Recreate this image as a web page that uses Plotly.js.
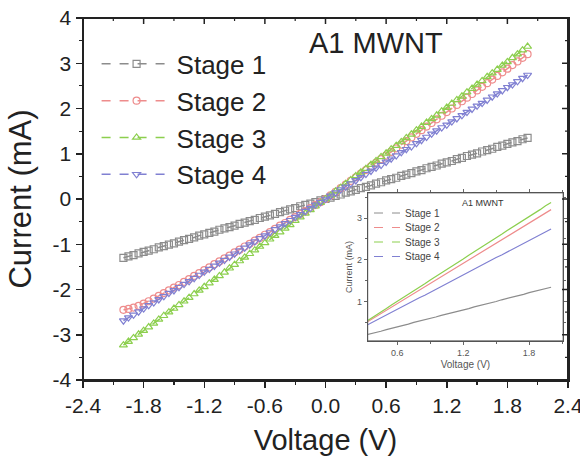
<!DOCTYPE html>
<html>
<head>
<meta charset="utf-8">
<script src="https://cdn.plot.ly/plotly-3.0.1.min.js"></script>
<style>html,body{margin:0;padding:0;background:#fff;overflow:hidden}#chart{width:580px;height:462px}</style>
</head>
<body>
<div id="chart"></div>
<script>
var voltage = [-2.00,-1.95,-1.90,-1.85,-1.80,-1.75,-1.70,-1.65,-1.60,-1.55,-1.50,-1.45,-1.40,-1.35,-1.30,-1.25,-1.20,-1.15,-1.10,-1.05,-1.00,-0.95,-0.90,-0.85,-0.80,-0.75,-0.70,-0.65,-0.60,-0.55,-0.50,-0.45,-0.40,-0.35,-0.30,-0.25,-0.20,-0.15,-0.10,-0.05,0.00,0.05,0.10,0.15,0.20,0.25,0.30,0.35,0.40,0.45,0.50,0.55,0.60,0.65,0.70,0.75,0.80,0.85,0.90,0.95,1.00,1.05,1.10,1.15,1.20,1.25,1.30,1.35,1.40,1.45,1.50,1.55,1.60,1.65,1.70,1.75,1.80,1.85,1.90,1.95,2.00];

var stage1 = [-1.30,-1.27,-1.24,-1.20,-1.17,-1.14,-1.11,-1.07,-1.04,-1.01,-0.98,-0.94,-0.91,-0.88,-0.85,-0.81,-0.78,-0.75,-0.72,-0.68,-0.65,-0.62,-0.59,-0.55,-0.52,-0.49,-0.46,-0.42,-0.39,-0.36,-0.33,-0.29,-0.26,-0.23,-0.20,-0.16,-0.13,-0.10,-0.07,-0.03,0.00,0.03,0.07,0.10,0.14,0.17,0.20,0.24,0.27,0.30,0.34,0.37,0.41,0.44,0.47,0.51,0.54,0.57,0.61,0.64,0.68,0.71,0.74,0.78,0.81,0.84,0.88,0.91,0.95,0.98,1.01,1.05,1.08,1.11,1.15,1.18,1.22,1.25,1.28,1.32,1.35];

var stage2 = [-2.45,-2.43,-2.40,-2.36,-2.31,-2.26,-2.20,-2.14,-2.08,-2.02,-1.96,-1.90,-1.83,-1.77,-1.70,-1.64,-1.57,-1.51,-1.44,-1.38,-1.31,-1.25,-1.18,-1.12,-1.05,-0.99,-0.92,-0.86,-0.79,-0.73,-0.66,-0.59,-0.53,-0.46,-0.40,-0.33,-0.27,-0.20,-0.13,-0.07,0.00,0.08,0.16,0.24,0.32,0.40,0.48,0.56,0.64,0.72,0.80,0.88,0.96,1.04,1.12,1.20,1.28,1.36,1.44,1.52,1.60,1.68,1.76,1.84,1.92,2.00,2.08,2.16,2.24,2.32,2.40,2.48,2.56,2.64,2.72,2.80,2.88,2.96,3.04,3.12,3.20];

var stage3 = [-3.23,-3.15,-3.07,-2.99,-2.91,-2.83,-2.75,-2.66,-2.58,-2.50,-2.42,-2.34,-2.26,-2.18,-2.10,-2.02,-1.94,-1.86,-1.78,-1.70,-1.62,-1.53,-1.45,-1.37,-1.29,-1.21,-1.13,-1.05,-0.97,-0.89,-0.81,-0.73,-0.65,-0.57,-0.48,-0.40,-0.32,-0.24,-0.16,-0.08,0.00,0.08,0.17,0.25,0.34,0.42,0.51,0.59,0.67,0.76,0.84,0.93,1.01,1.10,1.18,1.26,1.35,1.43,1.52,1.60,1.69,1.77,1.85,1.94,2.02,2.11,2.19,2.27,2.36,2.44,2.53,2.61,2.70,2.78,2.86,2.95,3.03,3.12,3.20,3.29,3.37];

var stage4 = [-2.69,-2.62,-2.56,-2.49,-2.42,-2.35,-2.29,-2.22,-2.15,-2.08,-2.02,-1.95,-1.88,-1.82,-1.75,-1.68,-1.61,-1.55,-1.48,-1.41,-1.35,-1.28,-1.21,-1.14,-1.08,-1.01,-0.94,-0.87,-0.81,-0.74,-0.67,-0.61,-0.54,-0.47,-0.40,-0.34,-0.27,-0.20,-0.13,-0.07,0.00,0.07,0.14,0.21,0.27,0.34,0.41,0.48,0.55,0.62,0.69,0.75,0.82,0.89,0.96,1.03,1.10,1.16,1.23,1.30,1.37,1.44,1.51,1.58,1.64,1.71,1.78,1.85,1.92,1.99,2.06,2.12,2.19,2.26,2.33,2.40,2.47,2.53,2.60,2.67,2.74];

var seriesNames = ["Stage 1","Stage 2","Stage 3","Stage 4"];
var xTickVals = [-2.4,-1.8,-1.2,-0.6,0.0,0.6,1.2,1.8,2.4];
var xTickText = ["-2.4","-1.8","-1.2","-0.6","0.0","0.6","1.2","1.8","2.4"];
var yTickVals = [-4,-3,-2,-1,0,1,2,3,4];
var yTickText = ["-4","-3","-2","-1","0","1","2","3","4"];
var insetXTickVals = [0.6,1.2,1.8];
var insetXTickText = ["0.6","1.2","1.8"];
var insetYTickVals = [1,2,3];
var insetYTickText = ["1","2","3"];

var colors = ["#8c8c8c","#ee8c8c","#8ccf4e","#8080d2"];
var symbols = ["square-open","circle-open","triangle-up-open","triangle-down-open"];
var allSeries = [stage1, stage2, stage3, stage4];

var font = "Arial, 'Liberation Sans', sans-serif";
var traces = [];
allSeries.forEach(function(s, i){
  traces.push({
    x: voltage, y: s, name: seriesNames[i], type: "scatter", mode: "lines+markers",
    xaxis: "x", yaxis: "y", legend: "legend",
    line: {color: colors[i], width: 1.5, dash: "dash"},
    marker: {symbol: symbols[i], size: 7, color: colors[i], line: {width: 1.2, color: colors[i]}}
  });
});
allSeries.forEach(function(s, i){
  traces.push({
    x: voltage, y: s, name: seriesNames[i], type: "scatter", mode: "lines",
    xaxis: "x2", yaxis: "y2", showlegend: false,
    line: {color: colors[i], width: 1.2}
  });
});

// pixel -> paper helpers for decorations
function px(x){ return (x - 83) / 485; }
function py(y){ return (380 - y) / 362; }
var axCol = "#222";
var insetDomX = [0.587, 0.99];
var insetDomY = [0.108, 0.517];
var insetLegendRows = [213, 227.5, 242, 256.5];
var annotations = [
  {text: "A1 MWNT", x: 0.604, y: 0.931, xref: "paper", yref: "paper", xanchor: "center", yanchor: "middle",
   showarrow: false, font: {size: 29, color: "#222"}},
  {text: "A1 MWNT", x: 0.825, y: 0.49, xref: "paper", yref: "paper", xanchor: "center", yanchor: "middle",
   showarrow: false, font: {size: 9, color: "#333"}}
];
var shapes = [];
seriesNames.forEach(function(n, i){
  var yy = py(insetLegendRows[i]);
  annotations.push({text: n, x: px(403), y: yy, xref: "paper", yref: "paper", xanchor: "left", yanchor: "middle",
    showarrow: false, font: {size: 10, color: "#444"}});
  shapes.push({type: "line", xref: "paper", yref: "paper", x0: px(374), x1: px(400), y0: yy, y1: yy,
    line: {color: colors[i], width: 1, dash: "dash"}});
});
// full frames (main plot and inset)
shapes.push({type: "rect", xref: "paper", yref: "paper", x0: 0, x1: 1, y0: 0, y1: 1, layer: "above",
  line: {color: axCol, width: 2}, fillcolor: "rgba(0,0,0,0)"});
shapes.push({type: "rect", xref: "paper", yref: "paper", x0: insetDomX[0], x1: insetDomX[1], y0: insetDomY[0], y1: insetDomY[1],
  layer: "above", line: {color: "#555", width: 1}, fillcolor: "rgba(0,0,0,0)"});
// inward ticks on top and right
xTickVals.forEach(function(v, i){
  shapes.push({type: "line", xref: "x", yref: "paper", x0: v, x1: v, y0: 1, y1: 1 - 6/362, line: {color: axCol, width: 1.5}});
  if (i < xTickVals.length - 1) {
    var m = (v + xTickVals[i + 1]) / 2;
    shapes.push({type: "line", xref: "x", yref: "paper", x0: m, x1: m, y0: 1, y1: 1 - 3/362, line: {color: axCol, width: 1.2}});
  }
});
yTickVals.forEach(function(v, i){
  shapes.push({type: "line", xref: "paper", yref: "y", x0: 1, x1: 1 - 6/485, y0: v, y1: v, line: {color: axCol, width: 1.5}});
  if (i < yTickVals.length - 1) {
    var m = (v + yTickVals[i + 1]) / 2;
    shapes.push({type: "line", xref: "paper", yref: "y", x0: 1, x1: 1 - 3/485, y0: m, y1: m, line: {color: axCol, width: 1.2}});
  }
});

var layout = {
  width: 580, height: 462,
  margin: {l: 83, r: 12, t: 18, b: 82},
  paper_bgcolor: "#fff", plot_bgcolor: "#fff",
  font: {family: font, color: "#222"},
  showlegend: true,
  xaxis: {
    range: [-2.4, 2.4], tickvals: xTickVals, ticktext: xTickText, ticklabeloverflow: "allow",
    ticks: "outside", ticklen: 6, tickwidth: 1.5, tickcolor: axCol,
    minor: {dtick: 0.3, tick0: -2.4, ticks: "outside", ticklen: 3, tickwidth: 1.2, tickcolor: axCol},
    showline: true, mirror: true, linecolor: axCol, linewidth: 1.5, showgrid: false, zeroline: false,
    tickfont: {size: 21, color: "#222"},
    title: {text: "Voltage (V)", font: {size: 29, color: "#222"}, standoff: 14}
  },
  yaxis: {
    range: [-4, 4], tickvals: yTickVals, ticktext: yTickText, ticklabeloverflow: "allow",
    ticks: "outside", ticklen: 6, tickwidth: 1.5, tickcolor: axCol,
    minor: {dtick: 0.5, tick0: -4, ticks: "outside", ticklen: 3, tickwidth: 1.2, tickcolor: axCol},
    showline: true, mirror: true, linecolor: axCol, linewidth: 1.5, showgrid: false, zeroline: false,
    tickfont: {size: 21, color: "#222"},
    title: {text: "Current (mA)", font: {size: 31, color: "#222"}, standoff: 12}
  },
  xaxis2: {
    domain: insetDomX, anchor: "y2", range: [0.33, 2.11],
    tickvals: insetXTickVals, ticktext: insetXTickText,
    ticks: "outside", ticklen: 3, tickwidth: 1, tickcolor: "#666",
    minor: {dtick: 0.3, tick0: 0.3, ticks: "outside", ticklen: 2, tickcolor: "#666"},
    showline: true, mirror: "ticks", linecolor: "#555", linewidth: 1, showgrid: false, zeroline: false,
    tickfont: {size: 9, color: "#555"},
    title: {text: "Voltage (V)", font: {size: 10, color: "#555"}, standoff: 4}
  },
  yaxis2: {
    domain: insetDomY, anchor: "x2", range: [0.07, 3.6],
    tickvals: insetYTickVals, ticktext: insetYTickText,
    ticks: "outside", ticklen: 3, tickwidth: 1, tickcolor: "#666",
    minor: {dtick: 0.5, tick0: 0, ticks: "outside", ticklen: 2, tickcolor: "#666"},
    showline: true, mirror: "ticks", linecolor: "#555", linewidth: 1, showgrid: false, zeroline: false,
    tickfont: {size: 9, color: "#555"},
    title: {text: "Current (mA)", font: {size: 9, color: "#555"}, standoff: 2}
  },
  legend: {
    x: 0.028, y: 0.938, xanchor: "left", yanchor: "top",
    bgcolor: "rgba(0,0,0,0)", font: {size: 26, color: "#222"},
    itemwidth: 70, tracegroupgap: 0
  },
  annotations: annotations,
  shapes: shapes
};

Plotly.newPlot("chart", traces, layout, {displayModeBar: false, staticPlot: true});
</script>
</body>
</html>
